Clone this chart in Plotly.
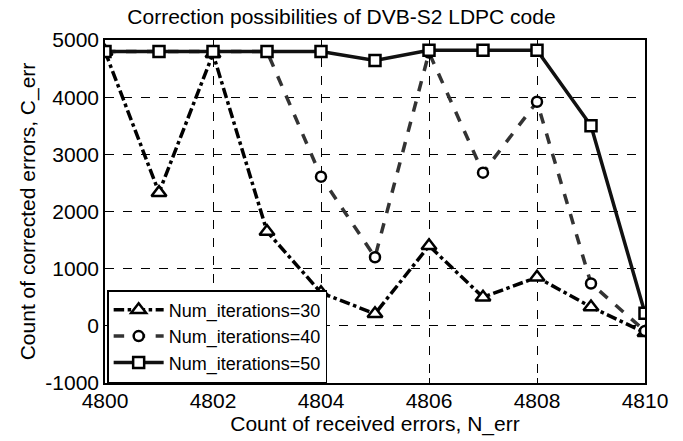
import plotly.graph_objects as go

n_err = [4800, 4801, 4802, 4803, 4804, 4805, 4806, 4807, 4808, 4809, 4810]
c_err_30 = [4800, 2330, 4760, 1650, 580, 210, 1400, 500, 850, 330, -120]
c_err_40 = [4800, 4800, 4800, 4800, 2610, 1200, 4780, 2680, 3920, 740, -90]
c_err_50 = [4800, 4800, 4800, 4800, 4800, 4640, 4820, 4820, 4820, 3500, 220]
names = ["Num_iterations=30", "Num_iterations=40", "Num_iterations=50"]
x_ticks = [4800, 4802, 4804, 4806, 4808, 4810]
y_ticks = [-1000, 0, 1000, 2000, 3000, 4000, 5000]

FONT = "Liberation Sans, Arial, sans-serif"
FS = 21

fig = go.Figure()
fig.add_trace(go.Scatter(
    x=n_err, y=c_err_30, name=names[0], mode="lines+markers",
    line=dict(color="black", width=3.5, dash="dashdot"),
    marker=dict(symbol="triangle-up", size=13, color="white",
                line=dict(color="black", width=2.5))))
fig.add_trace(go.Scatter(
    x=n_err, y=c_err_40, name=names[1], mode="lines+markers",
    line=dict(color="#333333", width=3.5, dash="dash"),
    marker=dict(symbol="circle", size=10, color="white",
                line=dict(color="black", width=2.5))))
fig.add_trace(go.Scatter(
    x=n_err, y=c_err_50, name=names[2], mode="lines+markers",
    line=dict(color="#111111", width=3.5),
    marker=dict(symbol="square", size=11, color="white",
                line=dict(color="black", width=2.5))))

fig.update_layout(
    width=683, height=441,
    margin=dict(l=105, r=38, t=40, b=58),
    paper_bgcolor="white", plot_bgcolor="white",
    font=dict(family=FONT, size=FS, color="black"),
    title=dict(text="Correction possibilities of DVB-S2 LDPC code",
               x=0.5, xanchor="center", y=0.963, yanchor="middle",
               font=dict(size=FS, family=FONT)),
    showlegend=True,
    legend=dict(x=0.004, y=0.0, xanchor="left", yanchor="bottom",
                bgcolor="white", bordercolor="black", borderwidth=1.5,
                font=dict(size=18, family=FONT), tracegroupgap=0,
                itemwidth=50),
)
fig.update_xaxes(
    range=[4800, 4810], tickvals=x_ticks, ticktext=[str(v) for v in x_ticks],
    showgrid=True, gridcolor="black", griddash="dash", gridwidth=0.8,
    showline=True, linecolor="black", linewidth=1.5, mirror=True,
    ticks="inside", ticklen=5, tickcolor="black", zeroline=False,
    ticklabelstandoff=-2,
    title=dict(text="Count of received errors, N_err", standoff=0,
               font=dict(size=FS, family=FONT)),
    tickfont=dict(size=FS, family=FONT))
fig.update_yaxes(
    range=[-1000, 5000], tickvals=y_ticks, ticktext=[str(v) for v in y_ticks],
    showgrid=True, gridcolor="black", griddash="dash", gridwidth=0.8,
    showline=True, linecolor="black", linewidth=1.5, mirror=True,
    ticks="inside", ticklen=5, tickcolor="black", zeroline=False,
    title=dict(text="Count of corrected errors, C_err", standoff=4,
               font=dict(size=FS, family=FONT)),
    tickfont=dict(size=FS, family=FONT))

fig.write_html("out.html")
